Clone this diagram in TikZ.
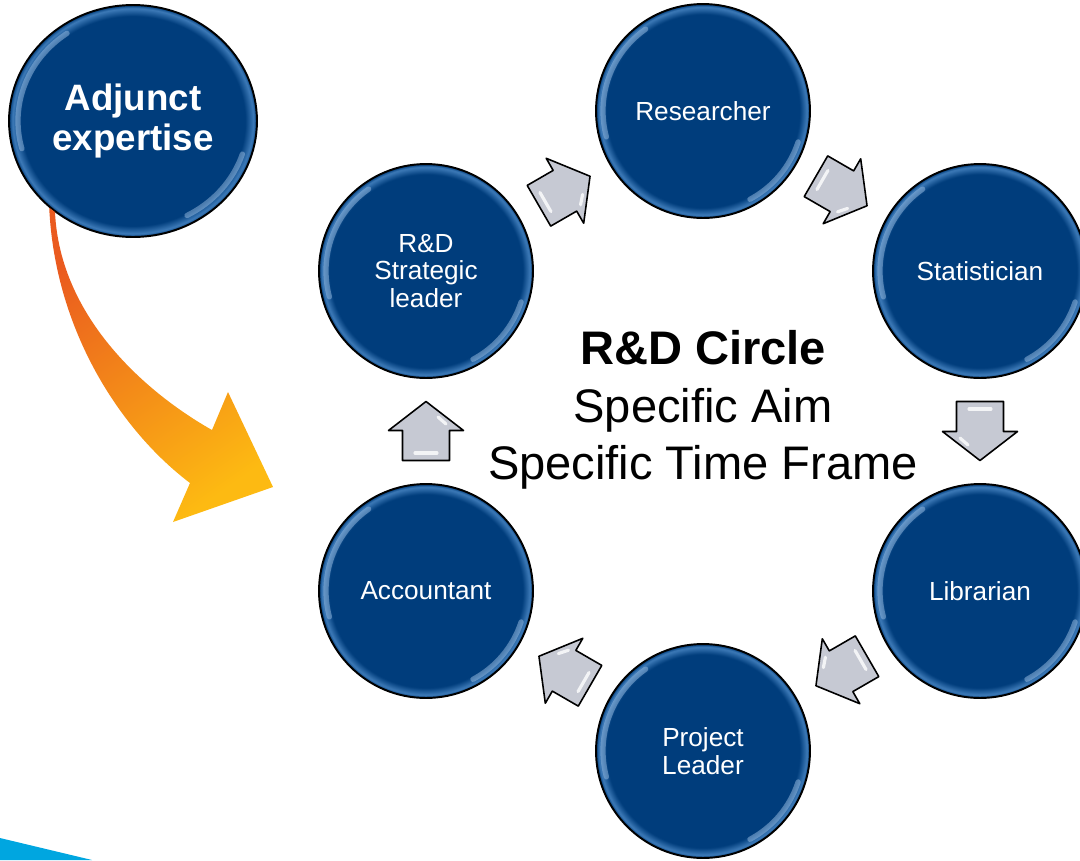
\documentclass[tikz,border=0pt]{standalone}
\usepackage{fontspec}
\setmainfont{Liberation Sans}
\usetikzlibrary{shapes.geometric,calc}

\definecolor{deepblue}{HTML}{003D7C}
\definecolor{rimblue}{HTML}{5E9BD8}
\definecolor{arrowgrey}{HTML}{C6C9D3}
\definecolor{hotorange}{HTML}{EA5A1F}
\definecolor{warmyellow}{HTML}{FDBA12}
\definecolor{stripeblue}{HTML}{00A6E0}

\pgfdeclareradialshading{bubble}{\pgfpoint{0bp}{0bp}}{color(0bp)=(deepblue); color(22.6bp)=(deepblue); color(24.3bp)=(rimblue!65!deepblue); color(25bp)=(deepblue); color(50bp)=(deepblue)}

\tikzset{
  role/.style={circle, draw=black, line width=1.1pt, shading=bubble, minimum size=4.28cm, inner sep=0pt,
    text=white, align=center, font=\fontsize{14.9}{15.6}\selectfont},
  shine/.style={line width=3pt, white!45!rimblue, opacity=.45, line cap=round},
  pics/stepper/.style={code={
      \draw[line width=.9pt, fill=arrowgrey, line join=round] (-29.5,-23.5) -- (0.5,-23.5) -- (0.5,-37.5)
        -- (29.5,0) -- (0.5,37.5) -- (0.5,23.5) -- (-29.5,23.5) -- cycle;
      \draw[white, line width=1.8pt, opacity=.8, line cap=round] (-22,-11) -- (-22,11);
      \draw[white, line width=1.8pt, opacity=.8, line cap=round] (7,-20) -- (14,-12);
  }}
}

\newcommand\gloss[3]{%
  \draw[shine] ([shift={(125:#2 and #3)}]#1.center) arc[start angle=125, end angle=195, x radius=#2, y radius=#3];
  \draw[shine] ([shift={(-18:#2 and #3)}]#1.center) arc[start angle=-18, end angle=-62, x radius=#2, y radius=#3];
}

\begin{document}
\begin{tikzpicture}[x=0.02cm, y=0.02cm]
  \useasboundingbox (0,0) rectangle (1080,-860);
  % corner stripe
  \fill[stripeblue] (0,-838) -- (92,-860) -- (0,-860) -- cycle;

  % outside help
  \node[role, ellipse, minimum width=4.96cm, minimum height=4.64cm,
    font=\bfseries\fontsize{20.9}{22.7}\selectfont] (adjunct) at (133,-121) {Adjunct\\expertise};
  \gloss{adjunct}{115}{107}
  \coordinate (feed) at (adjunct.226);
  \shade[top color=hotorange, bottom color=warmyellow, shading angle=35]
    (feed) .. controls (55,-330) and (120,-430) .. (190,-483) -- (173,-522) -- (273,-487)
    -- (228,-392) -- (212,-430) .. controls (150,-395) and (60,-320) .. (55,-212) -- cycle;

  % the circle
  \node[role] (researcher) at (703,-111) {Researcher};
  \node[role] (statist) at (980,-271) {Statistician};
  \node[role] (librarian) at (980,-591) {Librarian};
  \node[role] (projlead) at (703,-751) {Project\\Leader};
  \node[role] (accountant) at (426,-591) {Accountant};
  \node[role] (strategic) at (426,-271) {R\&D\\Strategic\\leader};
  \foreach \n in {researcher,statist,librarian,projlead,accountant,strategic}
    \gloss{\n}{100}{100};

  \node[font=\fontsize{26.8}{32.6}\selectfont, align=center] (aim) at (703,-410)
    {\textbf{R\&D Circle}\\Specific Aim\\Specific Time Frame};

  \foreach \a/\b in {strategic/researcher,researcher/statist,statist/librarian,
      librarian/projlead,projlead/accountant,accountant/strategic}
    \path (\a) -- pic[sloped, allow upside down]{stepper} (\b);
\end{tikzpicture}
\end{document}
